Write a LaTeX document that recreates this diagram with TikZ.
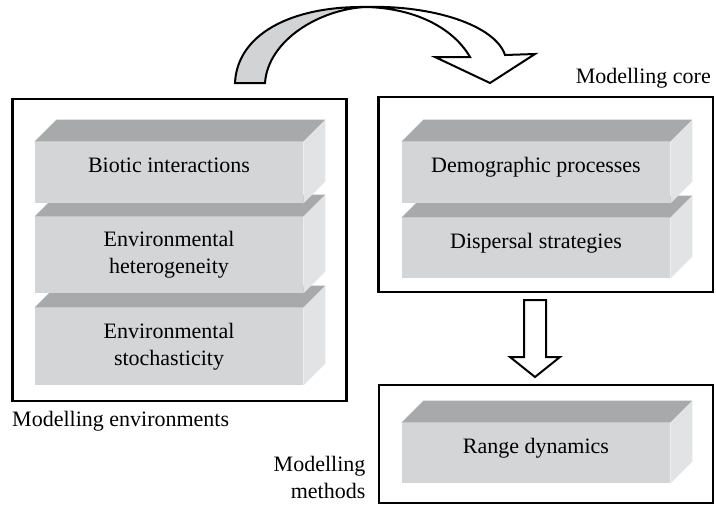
\documentclass[tikz,border=0pt]{standalone}
\usepackage{fontspec}
\setmainfont{Liberation Serif}
\usepackage{tikz}
\usetikzlibrary{positioning}
\definecolor{slabfront}{RGB}{212,213,215}
\definecolor{slabtop}{RGB}{168,169,171}
\definecolor{slabside}{RGB}{226,227,229}
\definecolor{ribbongray}{RGB}{210,211,213}
\newcommand{\slabfaces}[1]{%
  \fill[slabtop] (#1.north west) -- ([shift={(22,-22)}]#1.north west)
    -- ([shift={(22,-22)}]#1.north east) -- (#1.north east) -- cycle;
  \fill[slabside] (#1.north east) -- ([shift={(22,-22)}]#1.north east)
    -- ([shift={(22,-22)}]#1.south east) -- (#1.south east) -- cycle;
}
\tikzset{
  frame/.style={draw, line width=1.2pt, inner sep=0pt, minimum width=167pt},
  slab/.style={fill=slabfront, inner sep=0pt, minimum width=134pt, align=center},
  oneline/.style={text height=4pt, text depth=4pt},
  lbl/.style={inner sep=0pt},
  blockarrow/.style={draw, line width=1pt, line join=miter},
}
\begin{document}
\begin{tikzpicture}[x=0.5pt, y=-0.5pt, font=\fontsize{11}{13.5}\selectfont]
        \useasboundingbox (0,0) rectangle (716,509);

        % frames
        \node[frame, minimum height=151pt] (env) at (179.5,250) {};
        \node[frame, minimum width=167.25pt, minimum height=97.5pt] (core) at (545.75,194.5) {};
        \node[frame, minimum height=59pt] (meth) at (546,444) {};

        \node[lbl, below right=4.5pt and 0.25pt of env.south west] (envlab) {Modelling environments};
        \node[lbl, above left=3.75pt and 1.5pt of core.north east] (corelab) {Modelling core};
        \node[lbl, align=right, anchor=south east] (methlab) at ([xshift=-6pt,yshift=2.5pt]meth.south west) {Modelling\\methods};

        % slabs, lowest first
        \node[slab, minimum height=38.5pt] (sto) at (169,346.5) {Environmental\\stochasticity};
        \slabfaces{sto}
        \node[slab, minimum height=38pt] (het) at (169,255) {Environmental\\heterogeneity};
        \slabfaces{het}
        \node[slab, oneline, minimum height=30.5pt] (bio) at (169,172.5) {Biotic interactions};
        \slabfaces{bio}

        \node[slab, oneline, minimum height=30pt] (dis) at (536,248) {Dispersal strategies};
        \slabfaces{dis}
        \node[slab, oneline, minimum height=30.5pt] (dem) at (536,172.5) {Demographic processes};
        \slabfaces{dem}
        \node[slab, oneline, minimum height=30pt] (rng) at (536,453) {Range dynamics};
        \slabfaces{rng}

        % twisted arrow
        \path
        (235,83) coordinate (lout)
        (265,83) coordinate (lin)
        (366,7) coordinate (twist)
        (505,55) coordinate (rout)
        (470,57) coordinate (rin)
        (535,54) coordinate (barbr)
        (490,83) coordinate (tip)
        (435,57) coordinate (barbl)
        ;
        \draw[blockarrow, fill=white] (twist) .. controls (432,5) and (495,25) .. (rout)
            -- (barbr) -- (tip) -- (barbl) -- (rin) .. controls (452,26) and (412,8) .. (twist);
        \draw[blockarrow, fill=ribbongray] (lout) .. controls (237,35) and (290,6) .. (twist)
            .. controls (320,9) and (268,40) .. (lin) -- cycle;

        % down arrow
        \path
        (524,300) coordinate (dtl)
        (546,300) coordinate (dtr)
        (546,357) coordinate (dnr)
        (560,357) coordinate (dbr)
        (535,377) coordinate (dtip)
        (510,357) coordinate (dbl)
        (524,357) coordinate (dnl)
        ;
        \draw[blockarrow, fill=white] (dtl) -- (dtr) -- (dnr) -- (dbr) -- (dtip) -- (dbl) -- (dnl) -- cycle;
\end{tikzpicture}
\end{document}
